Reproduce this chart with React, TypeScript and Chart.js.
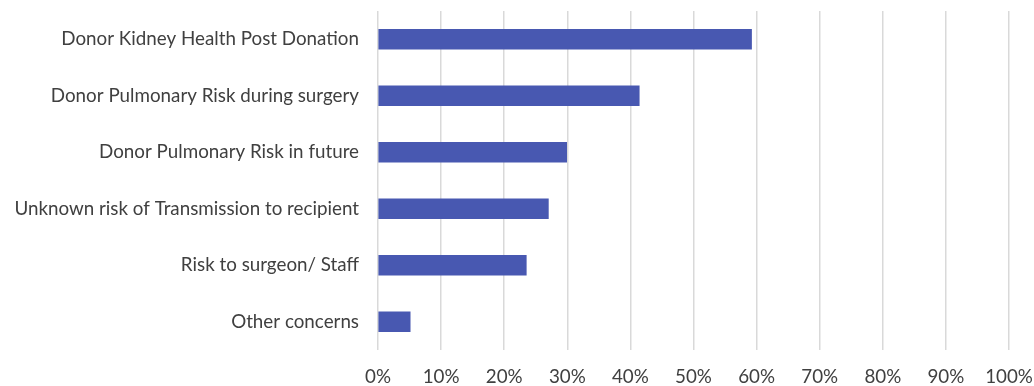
import React, { useEffect, useRef } from "react";
import { Chart, registerables } from "chart.js";

Chart.register(...registerables);

const categories = [
  "Donor Kidney Health Post Donation",
  "Donor Pulmonary Risk during surgery",
  "Donor Pulmonary Risk in future",
  "Unknown risk of Transmission to recipient",
  "Risk to surgeon/ Staff",
  "Other concerns",
];
const values = [59.2, 41.4, 29.9, 27.0, 23.5, 5.1];
const xTicks = [0, 10, 20, 30, 40, 50, 60, 70, 80, 90, 100];

const FONT = "Lato, 'Open Sans', sans-serif";

const zeroPad = (scale: any) => {
  scale.paddingTop = 0;
  scale.paddingBottom = 0;
  scale.paddingLeft = 0;
  scale.paddingRight = 0;
};

export default function App() {
  const ref = useRef<HTMLCanvasElement | null>(null);
  useEffect(() => {
    document.body.style.margin = "0";
    const ctx = ref.current!;
    const chart = new Chart(ctx, {
      type: "bar",
      data: {
        labels: categories,
        datasets: [
          {
            data: values,
            backgroundColor: "#4858B1",
            borderWidth: 0,
            barThickness: 20,
          },
        ],
      },
      options: {
        indexAxis: "y",
        responsive: false,
        animation: false,
        layout: { padding: { top: 11, right: 25, bottom: 0, left: 0 } },
        plugins: { legend: { display: false }, tooltip: { enabled: false } },
        scales: {
          x: {
            min: 0,
            max: 100,
            afterBuildTicks: (scale: any) => {
              scale.ticks = xTicks.map((v) => ({ value: v }));
            },
            afterFit: (scale: any) => {
              scale.height = 36;
              zeroPad(scale);
            },
            border: { display: false },
            grid: { color: "#d9d9d9", lineWidth: 1.5, drawTicks: false },
            ticks: {
              padding: 16,
              color: "#404040",
              font: { family: FONT, size: 18.8 },
              callback: (v: any) => v + "%",
            },
          },
          y: {
            afterFit: (scale: any) => {
              scale.width = 378;
              zeroPad(scale);
            },
            border: { display: false },
            grid: { display: false, drawTicks: false },
            ticks: {
              padding: 19,
              color: "#404040",
              font: { family: FONT, size: 18.8 },
            },
          },
        },
      },
    });
    return () => chart.destroy();
  }, []);
  return (
    <div style={{ width: 1034, height: 386, background: "#fff" }}>
      <canvas ref={ref} width={1034} height={386} />
    </div>
  );
}
